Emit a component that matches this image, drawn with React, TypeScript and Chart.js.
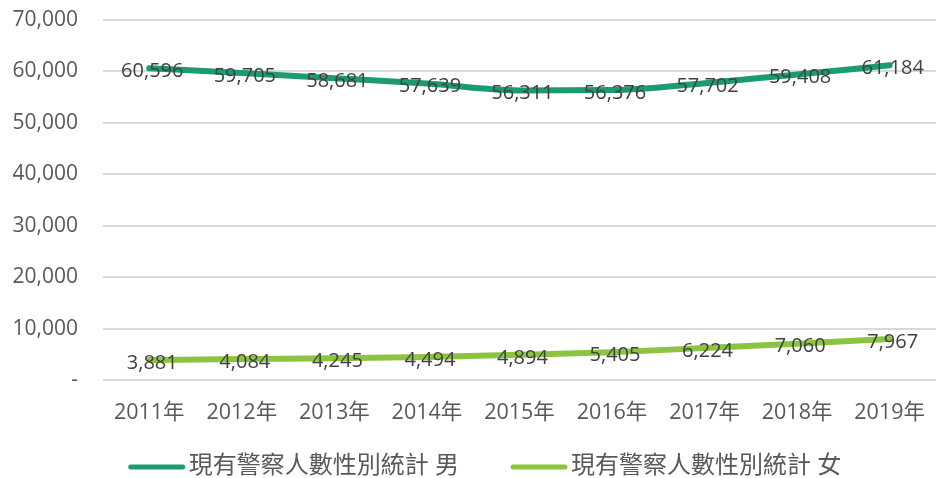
import React, { useEffect, useRef } from "react";
import { Chart, registerables } from "chart.js";

Chart.register(...registerables);

const categories = ["2011年", "2012年", "2013年", "2014年", "2015年", "2016年", "2017年", "2018年", "2019年"];
const maleValues = [60596, 59705, 58681, 57639, 56311, 56376, 57702, 59408, 61184];
const femaleValues = [3881, 4084, 4245, 4494, 4894, 5405, 6224, 7060, 7967];
const seriesNames = ["現有警察人數性別統計 男", "現有警察人數性別統計 女"];
const seriesColors = ["#1b9a74", "#8cc43f"];
const yTicks = [0, 10000, 20000, 30000, 40000, 50000, 60000, 70000];

const FONT = "'Open Sans', 'Noto Sans CJK TC', sans-serif";
const TEXT = "#595959";

const fmt = (v: number) => (v === 0 ? "-" : Number(v).toLocaleString("en-US"));

const overlayPlugin = {
  id: "overlay",
  afterDraw(chart: any) {
    const ctx = chart.ctx;
    const area = chart.chartArea;
    const y = chart.scales.y;
    ctx.save();
    // y tick labels
    ctx.font = `21px ${FONT}`;
    ctx.fillStyle = TEXT;
    ctx.textAlign = "right";
    ctx.textBaseline = "middle";
    yTicks.forEach((v) => {
      ctx.fillText(fmt(v), area.left - 25, y.getPixelForValue(v));
    });
    // legend
    ctx.font = `24px ${FONT}`;
    ctx.textAlign = "left";
    const lineW = 56;
    const gapText = 4;
    const gapItem = 52;
    const widths = seriesNames.map((n) => ctx.measureText(n).width);
    const total = widths.reduce((a, w) => a + lineW + gapText + w, 0) + gapItem;
    let x = 485 - total / 2;
    const ly = 466;
    seriesNames.forEach((n, i) => {
      ctx.strokeStyle = seriesColors[i];
      ctx.lineWidth = 5;
      ctx.lineCap = "round";
      ctx.beginPath();
      ctx.moveTo(x + 2, ly + 1);
      ctx.lineTo(x + lineW - 2, ly + 1);
      ctx.stroke();
      ctx.fillStyle = TEXT;
      ctx.fillText(n, x + lineW + gapText, ly);
      x += lineW + gapText + widths[i] + gapItem;
    });
    ctx.restore();
  },
  afterDatasetsDraw(chart: any) {
    const ctx = chart.ctx;
    ctx.save();
    ctx.font = `20px ${FONT}`;
    ctx.fillStyle = "#404040";
    ctx.textAlign = "center";
    ctx.textBaseline = "middle";
    chart.data.datasets.forEach((ds: any, i: number) => {
      const meta = chart.getDatasetMeta(i);
      meta.data.forEach((pt: any, j: number) => {
        ctx.fillText(Number(ds.data[j]).toLocaleString("en-US"), pt.x + 3, pt.y + 3);
      });
    });
    ctx.restore();
  },
};

export default function App() {
  const ref = useRef<HTMLCanvasElement>(null);
  useEffect(() => {
    document.body.style.margin = "0";
    document.body.style.overflow = "hidden";
    document.documentElement.style.overflow = "hidden";
    const mk = (i: number, data: number[]) => ({
      label: seriesNames[i],
      data,
      borderColor: seriesColors[i],
      backgroundColor: seriesColors[i],
      borderWidth: 6,
      pointRadius: 0,
      cubicInterpolationMode: "monotone",
      borderCapStyle: "round",
    });
    const chart = new Chart(ref.current!, {
      type: "line",
      data: {
        labels: categories,
        datasets: [mk(0, maleValues), mk(1, femaleValues)],
      },
      options: {
        animation: false,
        responsive: false,
        layout: { padding: { top: 20, right: 0, bottom: 55, left: 103 } },
        plugins: {
          legend: { display: false },
          tooltip: { enabled: false },
        },
        scales: {
          x: {
            offset: true,
            afterFit: (s: any) => { s.height = 43; },
            grid: { display: false, drawTicks: false },
            border: { display: false },
            ticks: { font: { size: 21.5, family: FONT }, color: TEXT, padding: 20, maxRotation: 0, autoSkip: false },
          },
          y: {
            min: 0,
            max: 70000,
            afterBuildTicks: (s: any) => { s.ticks = yTicks.map((v) => ({ value: v })); },
            grid: { color: "#d9d9d9", lineWidth: 2, drawTicks: false },
            border: { display: false },
            ticks: { display: false },
          },
        },
      },
      plugins: [overlayPlugin],
    } as any);
    return () => chart.destroy();
  }, []);
  return <canvas ref={ref} width={945} height={478} style={{ display: "block" }} />;
}
